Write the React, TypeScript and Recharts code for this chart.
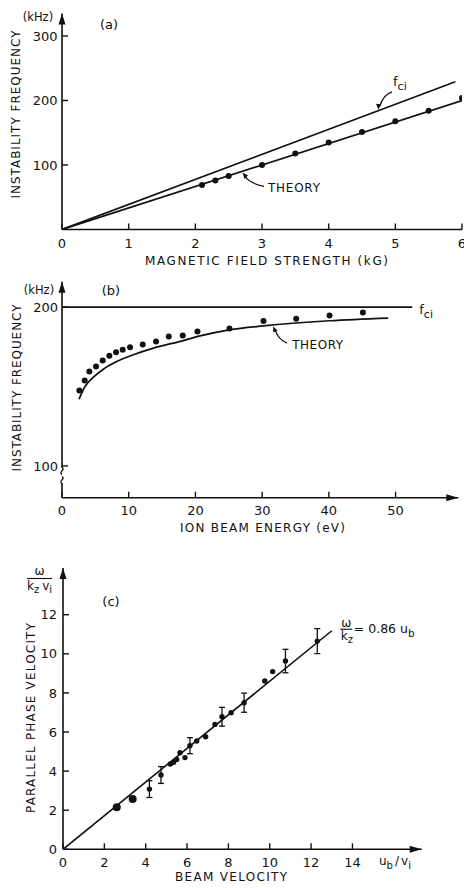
import React from "react";
import {
  ComposedChart,
  Line,
  Scatter,
  XAxis,
  YAxis,
  ErrorBar,
  ReferenceDot,
  ReferenceLine,
} from "recharts";

// (a) instability frequency vs magnetic field
const fieldKG = [2.1, 2.3, 2.5, 3, 3.5, 4, 4.5, 5, 5.5, 6];
const freqVsField = [69, 76, 83, 100, 118, 135, 151, 168, 184, 204];
const theoryFieldKG = [0, 6];
const theoryFreqA = [0, 200];
const fciFieldKG = [0, 5.9];
const fciFreqA = [0, 229];
const ticksAX = [0, 1, 2, 3, 4, 5, 6];
const ticksAY = [100, 200, 300];

// (b) instability frequency vs ion beam energy
const beamEnergyEV = [2.6, 3.4, 4.1, 5.1, 6.1, 7.1, 8.1, 9.1, 10.2, 12.1, 14.1, 16.0, 18.1, 20.3, 25.1, 30.2, 35.1, 40.1, 45.1];
const freqVsEnergy = [147.5, 153.8, 159.4, 162.6, 166.4, 169.3, 171.6, 173.1, 174.8, 176.4, 178.3, 181.5, 182.1, 184.6, 186.5, 191.2, 192.6, 194.7, 196.6];
const theoryEnergyEV = [2.55, 3.45, 4.7, 6.2, 8.2, 10.7, 13.7, 17.6, 20.7, 25.1, 30.2, 40.1, 48.9];
const theoryFreqB = [142, 150, 155.9, 160.9, 165.7, 170, 174.2, 178.3, 181.9, 185.7, 188.2, 191.4, 193.1];
const fciEnergyEV = [0, 52.5];
const fciFreqB = [200, 200];
const ticksBX = [0, 10, 20, 30, 40, 50];
const ticksBY = [100, 200];

// (c) parallel phase velocity vs beam velocity
const beamVelocity = [4.18, 4.74, 5.19, 5.35, 5.5, 5.66, 5.9, 6.14, 6.47, 6.9, 7.35, 7.69, 8.13, 8.76, 9.76, 10.14, 10.76, 12.3];
const phaseVelocity = [3.08, 3.8, 4.36, 4.45, 4.6, 4.94, 4.69, 5.3, 5.54, 5.76, 6.39, 6.78, 6.99, 7.5, 8.61, 9.09, 9.63, 10.65];
const phaseError = [0.43, 0.43, null, null, null, null, null, 0.41, null, null, null, 0.48, null, 0.49, null, null, 0.6, 0.64];
const bigDotVelocity = [2.6, 3.37];
const bigDotPhase = [2.15, 2.57];
const fitVelocity = [0, 13];
const fitPhase = [0, 11.18];
const ticksCX = [0, 2, 4, 6, 8, 10, 12, 14];
const ticksCY = [0, 2, 4, 6, 8, 10, 12];

const FONT = "'DejaVu Sans', 'Liberation Sans', sans-serif";
const INK = "#111";

const pts = (xs: number[], ys: number[], errs?: (number | null)[]) =>
  xs.map((x, i) => ({ x, y: ys[i], err: errs ? errs[i] : null }));

const tickStyle = { fill: INK, fontSize: 13, fontFamily: FONT };

const axisCommon = {
  type: "number" as const,
  axisLine: { stroke: INK, strokeWidth: 1.6 },
  tickLine: { stroke: INK, strokeWidth: 1.4 },
  tickSize: -6,
  tick: tickStyle,
  interval: 0 as const,
  allowDataOverflow: true,
};

const dot = (r: number) => (p: any) => <circle cx={p.cx} cy={p.cy} r={r} fill={INK} />;

const upArrow = (p: any) => (
  <path d={`M${p.cx},${p.cy} L${p.cx - 3.5},${p.cy + 11} L${p.cx + 3.5},${p.cy + 11} Z`} fill={INK} />
);
const rightArrow = (p: any) => (
  <path d={`M${p.cx},${p.cy} L${p.cx - 12},${p.cy - 3.5} L${p.cx - 12},${p.cy + 3.5} Z`} fill={INK} />
);

const fciTagA = ({ cx, cy }: any) => (
  <g>
    <path d={`M${cx + 14},${cy - 19} Q${cx + 5},${cy - 16} ${cx + 2},${cy - 5}`} fill="none" stroke={INK} strokeWidth={1.2} />
    <path d={`M${cx + 0.5},${cy - 1} l-2.5,-6 l5,0.5 Z`} fill={INK} />
    <text x={cx + 15} y={cy - 25} fontSize={13} fontFamily={FONT} fill={INK}>
      f<tspan fontSize={11} dy={4}>ci</tspan>
    </text>
  </g>
);

const theoryTagA = ({ cx, cy }: any) => (
  <g>
    <path d={`M${cx + 22},${cy + 15} Q${cx + 8},${cy + 12} ${cx + 3},${cy + 5}`} fill="none" stroke={INK} strokeWidth={1.2} />
    <path d={`M${cx + 0.5},${cy + 1} l5.5,3 l-3.5,3.5 Z`} fill={INK} />
    <text x={cx + 26} y={cy + 21} fontSize={12} fontFamily={FONT} fill={INK} textLength={52} lengthAdjust="spacing">
      THEORY
    </text>
  </g>
);

const theoryTagB = ({ cx, cy }: any) => (
  <g>
    <path d={`M${cx + 15},${cy + 18} Q${cx + 6},${cy + 14} ${cx + 3},${cy + 5}`} fill="none" stroke={INK} strokeWidth={1.2} />
    <path d={`M${cx + 1},${cy + 1} l4.5,4.5 l-4.5,1.5 Z`} fill={INK} />
    <text x={cx + 20} y={cy + 24} fontSize={12} fontFamily={FONT} fill={INK} textLength={51} lengthAdjust="spacing">
      THEORY
    </text>
  </g>
);

const fciTagB = ({ cx, cy }: any) => (
  <text x={cx + 7} y={cy + 7} fontSize={13} fontFamily={FONT} fill={INK}>
    f<tspan fontSize={11} dy={4}>ci</tspan>
  </text>
);

const axisBreak = ({ cx, cy }: any) => (
  <path
    d={`M${cx},${cy - 8} C${cx + 4},${cy - 6} ${cx - 4},${cy - 3} ${cx},${cy - 1} M${cx},${cy + 1} C${cx + 4},${cy + 3} ${cx - 4},${cy + 6} ${cx},${cy + 8}`}
    fill="none"
    stroke={INK}
    strokeWidth={1.3}
  />
);

const fitTagC = ({ cx, cy }: any) => (
  <g fontFamily={FONT} fill={INK}>
    <text x={cx + 14.5} y={cy - 8} fontSize={12} textAnchor="middle" dominantBaseline="central">ω</text>
    <line x1={cx + 8.5} x2={cx + 20.5} y1={cy - 1.5} y2={cy - 1.5} stroke={INK} strokeWidth={1.1} />
    <text x={cx + 9} y={cy + 9} fontSize={12}>
      k<tspan fontSize={10} dy={3}>z</tspan>
    </text>
    <text x={cx + 22} y={cy + 2} fontSize={12.5}>
      = 0.86 u<tspan fontSize={10.5} dy={4}>b</tspan>
    </text>
  </g>
);

export default function App() {
  return (
    <div style={{ position: "absolute", left: 0, top: 0, width: 464, height: 888, background: "#fff" }}>
      <div style={{ position: "absolute", left: 0, top: 0 }}>
        <ComposedChart width={464} height={270} margin={{ top: 13.4, right: 2, bottom: 0, left: 0 }}>
          <XAxis {...axisCommon} dataKey="x" domain={[0, 6]} ticks={ticksAX} height={40.5} tickMargin={15} />
          <YAxis {...axisCommon} dataKey="y" domain={[0, 335]} ticks={ticksAY} width={62} tickMargin={10.5} />
          <Line data={pts(fciFieldKG, fciFreqA)} dataKey="y" stroke={INK} strokeWidth={1.7} dot={false} isAnimationActive={false} />
          <Line data={pts(theoryFieldKG, theoryFreqA)} dataKey="y" stroke={INK} strokeWidth={1.7} dot={false} isAnimationActive={false} />
          <Scatter data={pts(fieldKG, freqVsField)} dataKey="y" shape={dot(3)} isAnimationActive={false} />
          <ReferenceDot x={0} y={335} r={0} shape={upArrow} />
          <ReferenceDot x={4.74} y={184} r={0} shape={fciTagA} />
          <ReferenceDot x={2.7} y={90} r={0} shape={theoryTagA} />
        </ComposedChart>
      </div>

      <div style={{ position: "absolute", left: 0, top: 270 }}>
        <ComposedChart width={464} height={280} margin={{ top: 11.7, right: 5.7, bottom: 0, left: 0 }}>
          <XAxis {...axisCommon} dataKey="x" domain={[0, 59.4]} ticks={ticksBX} height={52.3} tickMargin={14} />
          <YAxis {...axisCommon} axisLine={false} dataKey="y" domain={[80, 216]} ticks={ticksBY} width={62} tickMargin={10} />
          <ReferenceLine segment={[{ x: 0, y: 80 }, { x: 0, y: 89.3 }]} stroke={INK} strokeWidth={1.6} />
          <ReferenceLine segment={[{ x: 0, y: 98.7 }, { x: 0, y: 216 }]} stroke={INK} strokeWidth={1.6} />
          <ReferenceDot x={0} y={94} r={0} shape={axisBreak} />
          <Line data={pts(fciEnergyEV, fciFreqB)} dataKey="y" stroke={INK} strokeWidth={1.7} dot={false} isAnimationActive={false} />
          <Line data={pts(theoryEnergyEV, theoryFreqB)} dataKey="y" type="monotone" stroke={INK} strokeWidth={1.7} dot={false} isAnimationActive={false} />
          <Scatter data={pts(beamEnergyEV, freqVsEnergy)} dataKey="y" shape={dot(3)} isAnimationActive={false} />
          <ReferenceDot x={0} y={216} r={0} shape={upArrow} />
          <ReferenceDot x={59.4} y={80} r={0} shape={rightArrow} />
          <ReferenceDot x={31.5} y={188.6} r={0} shape={theoryTagB} />
          <ReferenceDot x={52.5} y={200} r={0} shape={fciTagB} />
        </ComposedChart>
      </div>

      <div style={{ position: "absolute", left: 0, top: 550 }}>
        <ComposedChart width={464} height={338} margin={{ top: 18, right: 42.3, bottom: 0, left: 0 }}>
          <XAxis {...axisCommon} dataKey="x" domain={[0, 17.35]} ticks={ticksCX} height={38.7} tickMargin={14} />
          <YAxis {...axisCommon} dataKey="y" domain={[0, 14.39]} ticks={ticksCY} width={63} tickMargin={12} />
          <Line data={pts(fitVelocity, fitPhase)} dataKey="y" stroke={INK} strokeWidth={1.6} dot={false} isAnimationActive={false} />
          <Scatter data={pts(beamVelocity, phaseVelocity, phaseError)} dataKey="y" shape={dot(2.7)} isAnimationActive={false}>
            <ErrorBar dataKey="err" direction="y" width={3} stroke={INK} strokeWidth={1.3} />
          </Scatter>
          <Scatter data={pts(bigDotVelocity, bigDotPhase)} dataKey="y" shape={dot(4)} isAnimationActive={false} />
          <ReferenceDot x={0} y={14.39} r={0} shape={upArrow} />
          <ReferenceDot x={17.35} y={0} r={0} shape={rightArrow} />
          <ReferenceDot x={13} y={11.18} r={0} shape={fitTagC} />
        </ComposedChart>
      </div>

      <svg
        width={464}
        height={888}
        style={{ position: "absolute", left: 0, top: 0, pointerEvents: "none" }}
        fontFamily={FONT}
        fill={INK}
      >
        {/* panel (a) */}
        <text x={38} y={16.5} fontSize={11.5} textAnchor="middle" dominantBaseline="central">(kHz)</text>
        <text x={109} y={24} fontSize={13} textAnchor="middle" dominantBaseline="central">(a)</text>
        <text transform="translate(16,114.5) rotate(-90)" fontSize={12} textAnchor="middle" dominantBaseline="central" textLength={168} lengthAdjust="spacing">
          INSTABILITY FREQUENCY
        </text>
        <text x={266.5} y={261} fontSize={12} textAnchor="middle" dominantBaseline="central" textLength={243} lengthAdjust="spacing">
          MAGNETIC FIELD STRENGTH (kG)
        </text>

        {/* panel (b) */}
        <text x={39} y={289.5} fontSize={11.5} textAnchor="middle" dominantBaseline="central">(kHz)</text>
        <text x={111} y={290.5} fontSize={13} textAnchor="middle" dominantBaseline="central">(b)</text>
        <text transform="translate(17,388) rotate(-90)" fontSize={12} textAnchor="middle" dominantBaseline="central" textLength={167} lengthAdjust="spacing">
          INSTABILITY FREQUENCY
        </text>
        <text x={262.5} y={528} fontSize={12} textAnchor="middle" dominantBaseline="central" textLength={165} lengthAdjust="spacing">
          ION BEAM ENERGY (eV)
        </text>

        {/* panel (c) */}
        <text x={39.5} y={571} fontSize={12} textAnchor="middle" dominantBaseline="central">ω</text>
        <line x1={27} x2={52} y1={578.5} y2={578.5} stroke={INK} strokeWidth={1.1} />
        <text x={27} y={590} fontSize={12}>
          k<tspan fontSize={10} dy={3}>z</tspan>
          <tspan dx={3} dy={-3}>v</tspan>
          <tspan fontSize={10} dy={3}>i</tspan>
        </text>
        <text x={111} y={601.5} fontSize={13} textAnchor="middle" dominantBaseline="central">(c)</text>
        <text transform="translate(31,718) rotate(-90)" fontSize={12} textAnchor="middle" dominantBaseline="central" textLength={190} lengthAdjust="spacing">
          PARALLEL PHASE VELOCITY
        </text>
        <text x={231} y={877} fontSize={12} textAnchor="middle" dominantBaseline="central" textLength={112} lengthAdjust="spacing">
          BEAM VELOCITY
        </text>
        <text x={379} y={865} fontSize={12}>
          u<tspan fontSize={10} dy={4}>b</tspan>
          <tspan dx={2} dy={-4}>/</tspan>
          <tspan dx={2}>v</tspan>
          <tspan fontSize={10} dy={4}>i</tspan>
        </text>
      </svg>
    </div>
  );
}
